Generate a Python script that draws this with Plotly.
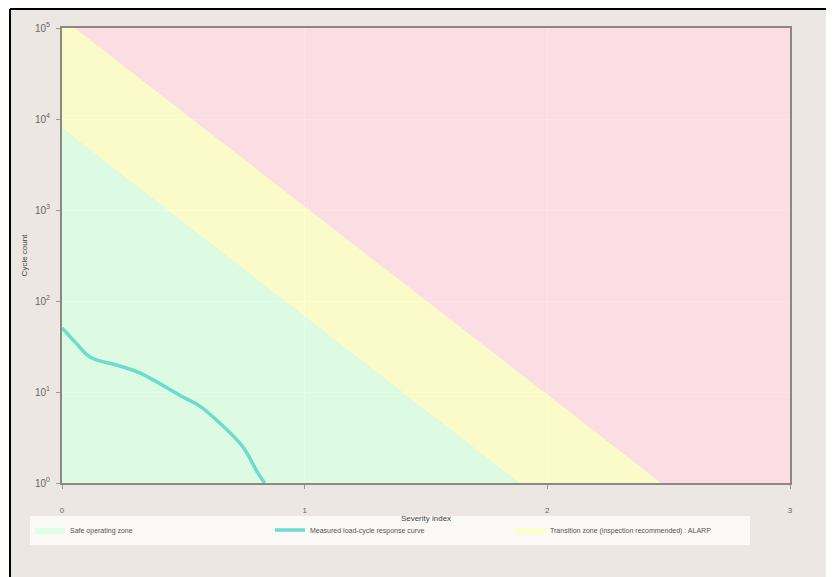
import plotly.graph_objects as go

# ---- data ----
x_ticks = [0, 1, 2, 3]
x_tick_labels = ["0", "1", "2", "3"]
y_ticks = [1, 10, 100, 1000, 10000, 100000]
y_tick_labels = ["10<sup>0</sup>", "10<sup>1</sup>", "10<sup>2</sup>",
                 "10<sup>3</sup>", "10<sup>4</sup>", "10<sup>5</sup>"]

# lower boundary (green / yellow) and upper boundary (yellow / red)
safe_limit_x = [0.0, 1.885]
safe_limit_y = [7943.0, 1.0]
fail_limit_x = [0.053, 2.47]
fail_limit_y = [100000.0, 1.0]

# measured curve
curve_x = [0.0, 0.06, 0.115, 0.239, 0.321, 0.498, 0.568, 0.650, 0.745, 0.807, 0.835]
curve_y = [50.5, 34.0, 24.3, 19.3, 16.2, 8.8, 7.0, 4.56, 2.5, 1.29, 1.0]

x_min, x_max = 0.0, 3.0
y_min, y_max = 1.0, 100000.0

series_names = [
    "Safe operating zone",
    "Measured load-cycle response curve",
    "Transition zone (inspection recommended) : ALARP",
]

# ---- figure ----
fig = go.Figure()

# green region
fig.add_trace(go.Scatter(
    x=[x_min, safe_limit_x[0], safe_limit_x[1], x_min],
    y=[y_min, safe_limit_y[0], safe_limit_y[1], y_min],
    fill="toself", mode="lines", line=dict(width=0, color="rgba(0,0,0,0)"),
    fillcolor="rgba(218,255,226,0.8)", name=series_names[0], hoverinfo="skip",
    legendrank=1,
))
# yellow region
fig.add_trace(go.Scatter(
    x=[safe_limit_x[0], x_min, fail_limit_x[0], fail_limit_x[1], safe_limit_x[1], safe_limit_x[0]],
    y=[safe_limit_y[0], y_max, fail_limit_y[0], fail_limit_y[1], safe_limit_y[1], safe_limit_y[0]],
    fill="toself", mode="lines", line=dict(width=0, color="rgba(0,0,0,0)"),
    fillcolor="rgba(255,255,194,0.8)", name=series_names[2], hoverinfo="skip",
    legendrank=3,
))
# red region
fig.add_trace(go.Scatter(
    x=[fail_limit_x[0], x_max, x_max, fail_limit_x[1], fail_limit_x[0]],
    y=[fail_limit_y[0], y_max, y_min, fail_limit_y[1], fail_limit_y[0]],
    fill="toself", mode="lines", line=dict(width=0, color="rgba(0,0,0,0)"),
    fillcolor="rgba(255,220,226,0.8)", showlegend=False, hoverinfo="skip",
))
# curve
fig.add_trace(go.Scatter(
    x=curve_x, y=curve_y, mode="lines", line=dict(color="#6cdccf", width=3.5, shape="spline"),
    name=series_names[1], legendrank=2,
))

# page has an 8px body margin: the figure starts at page (8, 8)
OFF = 8
W, H = 834 - OFF, 577 - OFF
L, R, T, B = 62 - OFF, 44, 28 - OFF, 94
pw, ph = W - L - R, H - T - B

def px_x(px):
    return (px - OFF - L) / pw

def px_y(py):
    return (H - B - (py - OFF)) / ph

shapes = [
    dict(type="rect", xref="paper", yref="paper", x0=px_x(11), x1=px_x(840),
         y0=px_y(590), y1=px_y(9), fillcolor="#ece7e3", line=dict(width=0), layer="below"),
    dict(type="line", xref="paper", yref="paper", x0=px_x(10), x1=px_x(10),
         y0=px_y(590), y1=px_y(9), line=dict(color="black", width=2)),
    dict(type="line", xref="paper", yref="paper", x0=px_x(10), x1=px_x(840),
         y0=px_y(9), y1=px_y(9), line=dict(color="black", width=2)),
]

fig.update_layout(
    width=W, height=H,
    margin=dict(l=L, r=R, t=T, b=B, autoexpand=False),
    paper_bgcolor="white",
    plot_bgcolor="#ece7e3",
    font=dict(family="Liberation Sans, Arial, sans-serif", size=8, color="#555"),
    shapes=shapes,
    showlegend=True,
    legend=dict(
        orientation="h", x=px_x(30), y=px_y(530), xanchor="left", yanchor="middle",
        bgcolor="rgba(252,250,247,0.95)", font=dict(size=7, color="#555"),
        entrywidth=195, entrywidthmode="pixels", traceorder="normal",
        itemwidth=30,
    ),
    xaxis=dict(
        range=[x_min, x_max], tickvals=x_ticks, ticktext=x_tick_labels,
        showgrid=True, gridcolor="white", gridwidth=1,
        showline=True, linecolor="#8d8883", linewidth=2, mirror=True,
        ticks="outside", ticklen=4, tickcolor="#999",
        ticklabelstandoff=14, zeroline=False, tickfont=dict(size=8, color="#666"),
        title=dict(text="Severity index", font=dict(size=8, color="#444"), standoff=2),
    ),
    yaxis=dict(
        type="log", range=[0, 5], tickvals=y_ticks, ticktext=y_tick_labels,
        showgrid=True, gridcolor="white", gridwidth=1,
        showline=True, linecolor="#8d8883", linewidth=2, mirror=True,
        ticks="outside", ticklen=4, tickcolor="#999",
        ticklabelstandoff=4, tickfont=dict(size=10, color="#666"),
        title=dict(text="Cycle count", font=dict(size=8, color="#444"), standoff=6),
    ),
)

fig.write_html("out.html")
